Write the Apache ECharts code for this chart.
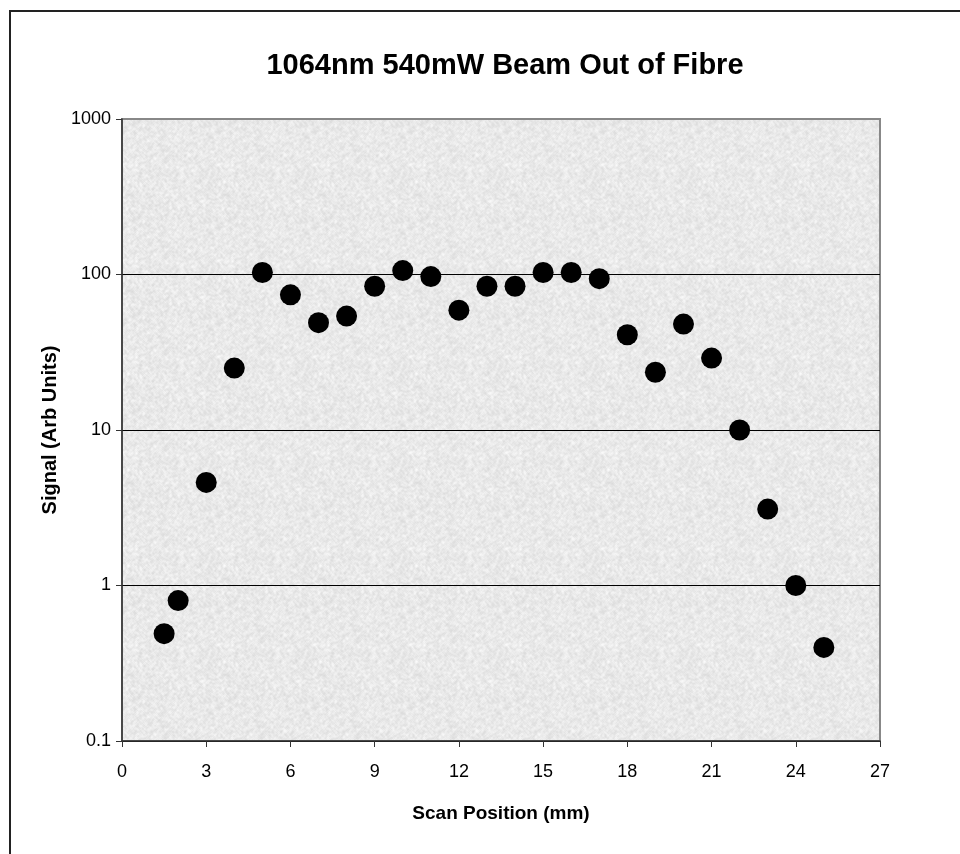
<!DOCTYPE html>
<html>
<head>
<meta charset="utf-8">
<script src="https://cdn.jsdelivr.net/npm/echarts@6/dist/echarts.min.js"></script>
<style>
  html, body { margin: 0; padding: 0; background: #fff; }
  #chart { width: 960px; height: 854px; }
</style>
</head>
<body>
<div id="chart"></div>
<script>
// scan position (mm) and signal (arb units)
var positions = [1.5, 2, 3, 4, 5, 6, 7, 8, 9, 10, 11, 12, 13, 14, 15, 16, 17, 18, 19, 20, 21, 22, 23, 24, 25];
var signal = [0.49, 0.8, 4.6, 25, 103, 74, 49, 54, 84, 106, 97, 59, 84, 84, 103, 103, 94, 41, 23.5, 48, 29, 10, 3.1, 1.0, 0.4];

var xTicks = [0, 3, 6, 9, 12, 15, 18, 21, 24, 27];
var yTicks = [0.1, 1, 10, 100, 1000];

// grey speckled fill like the old spreadsheet plot area (deterministic noise)
var makeTexture = function () {
    var size = 96;
    var c = document.createElement('canvas');
    c.width = size; c.height = size;
    var ctx = c.getContext('2d');
    var img = ctx.createImageData(size, size);
    var seed = 12345;
    var next = function () {
        seed = (seed * 1103515245 + 12345) & 0x7fffffff;
        return seed / 0x7fffffff;
    };
    var raw = [];
    for (var i = 0; i < size * size; i++) raw.push(next());
    for (var y = 0; y < size; y++) {
        for (var x = 0; x < size; x++) {
            // small smoothing so the speckle looks soft
            var s = 0, n = 0;
            for (var dy = -1; dy <= 1; dy++) {
                for (var dx = -1; dx <= 1; dx++) {
                    var xx = (x + dx + size) % size, yy = (y + dy + size) % size;
                    s += raw[yy * size + xx]; n++;
                }
            }
            var v = Math.round(255 - (s / n) * 36 - raw[y * size + x] * 8);
            var p = (y * size + x) * 4;
            img.data[p] = v; img.data[p + 1] = v; img.data[p + 2] = v; img.data[p + 3] = 255;
        }
    }
    ctx.putImageData(img, 0, 0);
    return c;
};

var chart = echarts.init(document.getElementById('chart'));

chart.setOption({
    animation: false,
    backgroundColor: '#fff',
    textStyle: { fontFamily: 'Liberation Sans, Arial, sans-serif' },
    title: {
        text: '1064nm 540mW Beam Out of Fibre',
        left: 500,
        top: 46,
        textAlign: 'center',
        textStyle: { fontSize: 29, fontWeight: 'bold', color: '#000', fontFamily: 'Liberation Sans, Arial, sans-serif' }
    },
    graphic: [{
        type: 'polyline',
        shape: { points: [[10, 870], [10, 11], [970, 11]] },
        style: { stroke: '#222', lineWidth: 2, fill: null },
        silent: true
    }],
    grid: {
        left: 122, right: 80, top: 119, bottom: 113,
        show: true,
        backgroundColor: { image: makeTexture(), repeat: 'repeat' },
        borderColor: '#888',
        borderWidth: 2
    },
    xAxis: {
        type: 'value',
        min: xTicks[0],
        max: xTicks[xTicks.length - 1],
        interval: 3,
        name: 'Scan Position (mm)',
        nameLocation: 'middle',
        nameGap: 63,
        nameTextStyle: { fontSize: 19, fontWeight: 'bold', color: '#000' },
        axisLine: { show: true, onZero: false, lineStyle: { color: '#333', width: 1.5 } },
        axisTick: { show: true, inside: false, length: 6, lineStyle: { color: '#333' } },
        axisLabel: { fontSize: 18, color: '#000', margin: 22 },
        splitLine: { show: false }
    },
    yAxis: {
        type: 'log',
        logBase: 10,
        min: yTicks[0],
        max: yTicks[yTicks.length - 1],
        name: 'Signal (Arb Units)',
        nameLocation: 'middle',
        nameGap: 62,
        nameTextStyle: { fontSize: 20, fontWeight: 'bold', color: '#000' },
        axisLine: { show: true, lineStyle: { color: '#333', width: 1.5 } },
        axisTick: { show: true, inside: false, length: 6, lineStyle: { color: '#333' } },
        axisLabel: {
            fontSize: 18, color: '#000', margin: 11,
            formatter: function (v) { return String(+v.toPrecision(3)); }
        },
        splitLine: { show: true, lineStyle: { color: ['#000', '#000', '#000', '#000', '#888'], width: 1 } }
    },
    series: [{
        type: 'scatter',
        data: positions.map(function (p, i) { return [p, signal[i]]; }),
        symbol: 'circle',
        symbolSize: 21,
        itemStyle: { color: '#000', opacity: 1 }
    }]
});
</script>
</body>
</html>
